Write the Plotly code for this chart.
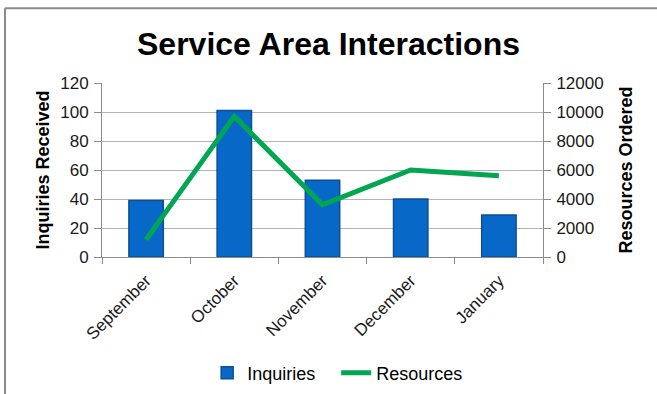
import plotly.graph_objects as go

months = ["September", "October", "November", "December", "January"]
inquiries = [39, 101, 53, 40, 29]
resources = [1200, 9700, 3600, 6000, 5600]

FONT = "Liberation Sans, Arial, sans-serif"

fig = go.Figure()
fig.add_trace(go.Bar(
    x=months, y=inquiries, name="Inquiries",
    marker=dict(color="#0868c8", line=dict(color="#0a4f98", width=1.5)),
    width=0.39, yaxis="y",
))
fig.add_trace(go.Scatter(
    x=months, y=resources, name="Resources", mode="lines",
    line=dict(color="#00a651", width=5), yaxis="y2",
))

axis_common = dict(
    showline=True, linecolor="#8c8c8c", linewidth=1,
    ticks="outside", ticklen=7, tickcolor="#8c8c8c",
    tickfont=dict(family=FONT, size=17, color="#1a1a1a"),
    zeroline=False, automargin=False, tickformat="d",
)

fig.update_layout(
    width=657, height=394,
    margin=dict(l=102, r=114, t=83, b=137),
    paper_bgcolor="white", plot_bgcolor="white",
    font=dict(family=FONT, color="#000"),
    title=dict(text="<b>Service Area Interactions</b>", x=0.5, xanchor="center",
               y=0.888, yanchor="middle",
               font=dict(family=FONT, size=32, color="#000")),
    xaxis=dict(
        showline=True, linecolor="#8c8c8c", linewidth=1,
        ticks="outside", ticklen=6, tickcolor="#8c8c8c", tickson="boundaries",
        tickangle=-45, tickfont=dict(family=FONT, size=17, color="#1a1a1a"),
        showgrid=False, automargin=False, ticklabelstandoff=6,
    ),
    yaxis=dict(
        **axis_common, range=[0, 120], dtick=20,
        showgrid=True, gridcolor="#b4b4b4", gridwidth=1,
        ticklabelstandoff=2,
        title=dict(text="<b>Inquiries Received</b>", standoff=5,
                   font=dict(family=FONT, size=18, color="#000")),
    ),
    yaxis2=dict(
        **axis_common, range=[0, 12000], dtick=2000, overlaying="y", side="right",
        showgrid=False, ticklabelstandoff=2,
        title=dict(text="<b>Resources Ordered</b>", standoff=16,
                   font=dict(family=FONT, size=18, color="#000")),
    ),
    legend=dict(orientation="h", x=0.531, xanchor="center",
                yref="container", y=0.053, yanchor="middle",
                font=dict(family=FONT, size=18, color="#000"),
                itemwidth=30, traceorder="normal", entrywidth=84),
    showlegend=True,
    shapes=[
        dict(type="line", xref="paper", yref="paper", x0=-0.22, x1=1.3, y0=1.43, y1=1.43,
             line=dict(color="#8a8a8a", width=2)),
        dict(type="line", xref="paper", yref="paper", x0=-0.22, x1=-0.22, y0=1.43, y1=-0.9,
             line=dict(color="#8a8a8a", width=2)),
    ],
)

fig.write_html("out.html")
